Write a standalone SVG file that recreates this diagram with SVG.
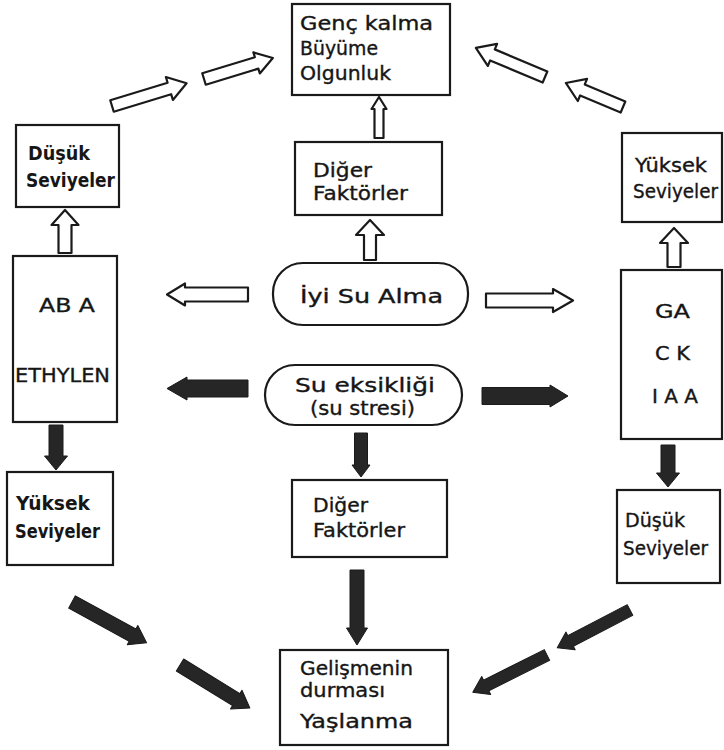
<svg xmlns="http://www.w3.org/2000/svg" width="724" height="750" viewBox="0 0 724 750">
<style>
.box{fill:#fff;stroke:#1a1a1a;stroke-width:2.2}
.t{font-family:"DejaVu Sans","Liberation Sans",sans-serif;font-size:19px;fill:#161616;stroke:#161616;stroke-width:0.35}
.b{font-weight:bold;stroke-width:0}
.ho{fill:#fff;stroke:#1a1a1a;stroke-width:2.2;stroke-linejoin:round}
.fi{fill:#262626;stroke:#1a1a1a;stroke-width:1;stroke-linejoin:round}
</style>
<rect width="724" height="750" fill="#fff"/>
<g id="connectors">
<path class="ho" transform="translate(112,106) rotate(-17)" d="M0,-6 H60 V-12 L78,0 L60,12 V6 H0 Z"/>
<path class="ho" transform="translate(204,79) rotate(-17)" d="M0,-6 H55 V-11 L72,0 L55,11 V6 H0 Z"/>
<path class="ho" transform="translate(545,77) rotate(-157.2)" d="M0,-6 H57 V-12 L75,0 L57,12 V6 H0 Z"/>
<path class="ho" transform="translate(623,107) rotate(-157.2)" d="M0,-6 H44 V-12 L62,0 L44,12 V6 H0 Z"/>
<path class="ho" transform="translate(248,294.5) rotate(180)" d="M0,-7 H63 V-11 L81,0 L63,11 V7 H0 Z"/>
<path class="ho" transform="translate(486,300.5) rotate(0)" d="M0,-7 H67 V-11.5 L87,0 L67,11.5 V7 H0 Z"/>
<path class="ho" transform="translate(65,253) rotate(-90)" d="M0,-6.5 H28 V-13.5 L43,0 L28,13.5 V6.5 H0 Z"/>
<path class="ho" transform="translate(674,267) rotate(-90)" d="M0,-6.5 H24 V-14 L39,0 L24,14 V6.5 H0 Z"/>
<path class="ho" transform="translate(379,138) rotate(-90)" d="M0,-4.5 H29 V-7.5 L41,0 L29,7.5 V4.5 H0 Z"/>
<path class="ho" transform="translate(370,260) rotate(-90)" d="M0,-6 H25 V-14 L40,0 L25,14 V6 H0 Z"/>
<path class="fi" transform="translate(248,388.5) rotate(180)" d="M0,-8.5 H61 V-11.5 L81,0 L61,11.5 V8.5 H0 Z"/>
<path class="fi" transform="translate(482,396) rotate(0)" d="M0,-8.5 H68 V-11 L86,0 L68,11 V8.5 H0 Z"/>
<path class="fi" transform="translate(56,425) rotate(90)" d="M0,-7 H31 V-11.5 L45,0 L31,11.5 V7 H0 Z"/>
<path class="fi" transform="translate(361,433) rotate(90)" d="M0,-6.5 H32 V-9 L44,0 L32,9 V6.5 H0 Z"/>
<path class="fi" transform="translate(357,570) rotate(90)" d="M0,-7 H58 V-10.5 L75,0 L58,10.5 V7 H0 Z"/>
<path class="fi" transform="translate(668,445) rotate(90)" d="M0,-7 H28 V-11.5 L42,0 L28,11.5 V7 H0 Z"/>
<path class="fi" transform="translate(72,602) rotate(28.7)" d="M0,-7 H69 V-11 L85,0 L69,11 V7 H0 Z"/>
<path class="fi" transform="translate(180,665) rotate(31.6)" d="M0,-7 H66 V-11 L82,0 L66,11 V7 H0 Z"/>
<path class="fi" transform="translate(630,610) rotate(152.5)" d="M0,-6 H67 V-10 L82,0 L67,10 V6 H0 Z"/>
<path class="fi" transform="translate(547,655) rotate(153.4)" d="M0,-6 H68 V-10 L83,0 L68,10 V6 H0 Z"/>
</g>
<g id="top">
<rect class="box" x="292" y="4" width="158" height="91"/>
<text class="t" x="300" y="30" textLength="133" lengthAdjust="spacingAndGlyphs">Genç kalma</text>
<text class="t" x="300" y="55" textLength="78" lengthAdjust="spacingAndGlyphs">Büyüme</text>
<text class="t" x="300" y="80" textLength="91" lengthAdjust="spacingAndGlyphs">Olgunluk</text>
</g>
<g id="left-low-levels">
<rect class="box" x="16" y="125" width="103" height="82"/>
<text class="t b" x="28" y="160" textLength="62" lengthAdjust="spacingAndGlyphs">Düşük</text>
<text class="t b" x="26" y="187" textLength="89" lengthAdjust="spacingAndGlyphs">Seviyeler</text>
</g>
<g id="aba">
<rect class="box" x="13" y="256" width="104" height="166"/>
<text class="t" x="39" y="312" font-size="21" textLength="56" lengthAdjust="spacingAndGlyphs">AB A</text>
<text class="t" x="15" y="382" font-size="21" textLength="95" lengthAdjust="spacingAndGlyphs">ETHYLEN</text>
</g>
<g id="left-high-levels">
<rect class="box" x="7" y="472" width="106" height="93"/>
<text class="t b" x="16" y="510" textLength="74" lengthAdjust="spacingAndGlyphs">Yüksek</text>
<text class="t b" x="15" y="538" textLength="85" lengthAdjust="spacingAndGlyphs">Seviyeler</text>
</g>
<g id="right-high-levels">
<rect class="box" x="622" y="133" width="100" height="89"/>
<text class="t" x="635" y="172" textLength="72" lengthAdjust="spacingAndGlyphs">Yüksek</text>
<text class="t" x="633" y="198" textLength="85" lengthAdjust="spacingAndGlyphs">Seviyeler</text>
</g>
<g id="ga">
<rect class="box" x="621" y="270" width="101" height="169"/>
<text class="t" x="655" y="318" font-size="20" textLength="35" lengthAdjust="spacingAndGlyphs">GA</text>
<text class="t" x="655" y="360" font-size="20" textLength="35" lengthAdjust="spacingAndGlyphs">C K</text>
<text class="t" x="652" y="403" font-size="20" textLength="46" lengthAdjust="spacingAndGlyphs">I A A</text>
</g>
<g id="right-low-levels">
<rect class="box" x="617" y="490" width="103" height="93"/>
<text class="t" x="625" y="527" textLength="60" lengthAdjust="spacingAndGlyphs">Düşük</text>
<text class="t" x="623" y="555" textLength="85" lengthAdjust="spacingAndGlyphs">Seviyeler</text>
</g>
<g id="other-factors-up">
<rect class="box" x="295" y="142" width="147" height="73"/>
<text class="t" x="313" y="177" textLength="59" lengthAdjust="spacingAndGlyphs">Diğer</text>
<text class="t" x="313" y="200" textLength="95" lengthAdjust="spacingAndGlyphs">Faktörler</text>
</g>
<g id="good-water">
<rect class="box" x="273" y="263" width="195" height="62" rx="30"/>
<text class="t" x="300" y="303" textLength="143" lengthAdjust="spacingAndGlyphs">İyi Su  Alma</text>
</g>
<g id="water-stress">
<rect class="box" x="265" y="365" width="197" height="60" rx="30"/>
<text class="t" x="295" y="392" textLength="140" lengthAdjust="spacingAndGlyphs">Su eksikliği</text>
<text class="t" x="310" y="415" textLength="105" lengthAdjust="spacingAndGlyphs">(su stresi)</text>
</g>
<g id="other-factors-down">
<rect class="box" x="292" y="480" width="155" height="77"/>
<text class="t" x="313" y="512" textLength="55" lengthAdjust="spacingAndGlyphs">Diğer</text>
<text class="t" x="313" y="537" textLength="92" lengthAdjust="spacingAndGlyphs">Faktörler</text>
</g>
<g id="senescence">
<rect class="box" x="280" y="650" width="168" height="95"/>
<text class="t" x="300" y="675" textLength="113" lengthAdjust="spacingAndGlyphs">Gelişmenin</text>
<text class="t" x="300" y="697" textLength="85" lengthAdjust="spacingAndGlyphs">durması</text>
<text class="t" x="300" y="728" textLength="113" lengthAdjust="spacingAndGlyphs">Yaşlanma</text>
</g>
</svg>
